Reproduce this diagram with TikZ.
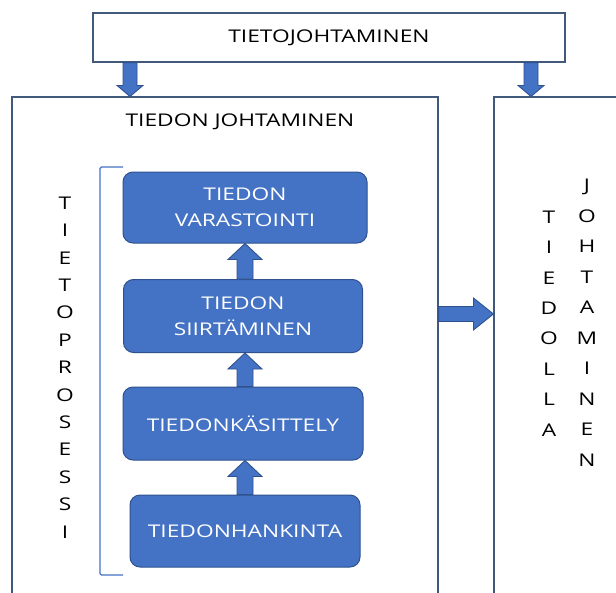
\documentclass[tikz,border=0pt]{standalone}
\usepackage{fontspec}
\setmainfont{Open Sans}[FakeStretch=1.3]
\usetikzlibrary{calc}

\definecolor{boxblue}{HTML}{4472C4}
\definecolor{edgeblue}{HTML}{2F528F}
\definecolor{frameline}{HTML}{41597A}

\tikzset{
  frame/.style={draw=frameline, line width=1.1pt, fill=white, inner sep=0pt},
  stepbox/.style={draw=edgeblue, line width=1pt, fill=boxblue, rounded corners=10pt,
    text=white, align=center, inner sep=0pt, font=\fontsize{17.5}{26}\selectfont},
  label/.style={font=\fontsize{17.5}{22}\selectfont, inner sep=0pt},
  barrow/.style={draw=edgeblue, line width=0.9pt, fill=boxblue, line join=miter},
}

% block arrow: #1 tail, #2 tip, #3 half shaft width, #4 half head width, #5 head length
\newcommand\blockarrow[5]{%
  \coordinate (ba-base) at ($(#2)!#5!(#1)$);
  \draw[barrow] ($(#1)!#3!90:(#2)$) -- ($(ba-base)!#3!90:(#2)$)
    -- ($(ba-base)!#4!90:(#2)$) -- (#2) -- ($(ba-base)!#4!-90:(#2)$)
    -- ($(ba-base)!#3!-90:(#2)$) -- ($(#1)!#3!-90:(#2)$) -- cycle;}

\begin{document}
\begin{tikzpicture}[x=1pt, y=-1pt]
\clip (0,0) rectangle (616,592);
\fill[white] (0,0) rectangle (616,592);

% outer frames
\node[frame, minimum width=472pt, minimum height=49pt] (top) at (329,37.5) {};
\node[label] (toptext) at (top.center) {TIETOJOHTAMINEN};
\node[frame, minimum width=426pt, minimum height=503pt] (left) at (225,348.5) {};
\node[frame, minimum width=136pt, minimum height=503pt] (right) at (562,348.5) {};
\node[label] (ltitle) at (240,122) {TIEDON JOHTAMINEN};

% process steps
\node[stepbox, minimum width=244pt, minimum height=71pt] (b1) at (245,207.5)
  {TIEDON\\VARASTOINTI};
\node[stepbox, minimum width=239pt, minimum height=73pt] (b2) at (243,316)
  {TIEDON\\SIIRTÄMINEN};
\node[stepbox, minimum width=240pt, minimum height=73pt] (b3) at (243,423.5)
  {TIEDONKÄSITTELY};
\node[stepbox, minimum width=230pt, minimum height=72pt] (b4) at (245,531)
  {TIEDONHANKINTA};

% bracket grouping the steps
\draw[boxblue, line width=1.1pt, rounded corners=1.5pt]
  (123,167) -- (100,167) -- (100,575) -- (123,575);

% vertical captions
\node[align=center, inner sep=0pt, font=\fontsize{17.5}{27.4}\selectfont] (proc) at (65,367.5)
  {T\\I\\E\\T\\O\\P\\R\\O\\S\\E\\S\\S\\I};
\node[align=center, inner sep=0pt, font=\fontsize{17.5}{30.4}\selectfont] (tied) at (549,323.5)
  {T\\I\\E\\D\\O\\L\\L\\A};
\node[align=center, inner sep=0pt, font=\fontsize{17.5}{30.5}\selectfont] (joht) at (587,322.5)
  {J\\O\\H\\T\\A\\M\\I\\N\\E\\N};

% arrows
\coordinate (a1s) at (top.south -| 130,0);
\coordinate (a1e) at (left.north -| 130,0);
\coordinate (a2s) at (top.south -| 531,0);
\coordinate (a2e) at (right.north -| 531,0);
\blockarrow{a1s}{a1e}{7pt}{13pt}{11pt}
\blockarrow{a2s}{a2e}{7pt}{13pt}{11pt}

\coordinate (u1s) at (b4.north);
\coordinate (u1e) at (b3.south -| b4.north);
\coordinate (u2s) at (b3.north -| b4.north);
\coordinate (u2e) at (b2.south -| b4.north);
\coordinate (u3s) at (b2.north -| b4.north);
\coordinate (u3e) at (b1.south -| b4.north);
\blockarrow{u1s}{u1e}{8pt}{17pt}{16pt}
\blockarrow{u2s}{u2e}{8pt}{17pt}{16pt}
\blockarrow{u3s}{u3e}{8pt}{17pt}{16pt}

\coordinate (rs) at (left.east |- 0,314);
\coordinate (re) at (right.west |- 0,314);
\blockarrow{rs}{re}{7.5pt}{16pt}{20pt}
\end{tikzpicture}
\end{document}
